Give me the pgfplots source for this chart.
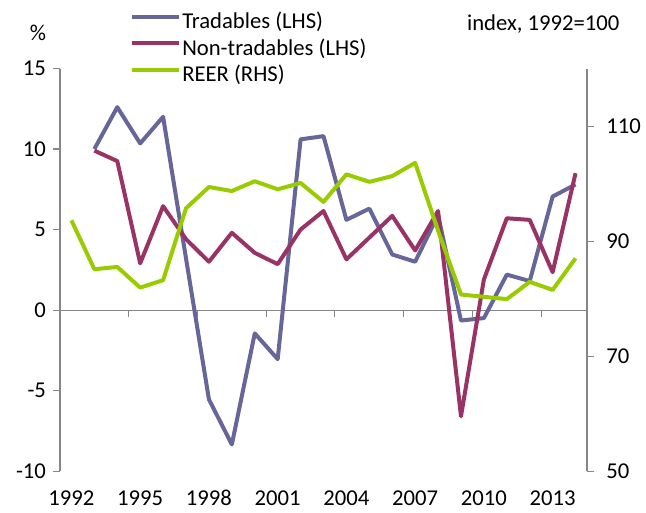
\documentclass[border=0pt]{standalone}
\usepackage{fontspec}
\setmainfont{Carlito}
\usepackage{pgfplots}
\pgfplotsset{compat=1.18}
\usetikzlibrary{calc}

\definecolor{tradc}{RGB}{102,102,153}
\definecolor{nontc}{RGB}{153,51,102}
\definecolor{reerc}{RGB}{153,204,0}
\definecolor{axgray}{RGB}{134,134,134}

\newcommand{\lblfont}{\fontsize{17}{20}\selectfont}

\pgfplotsset{
  base/.style={
    scale only axis,
    width=395.25pt, height=301.9pt,
    xmin=1991.5, xmax=2014.5,
    axis line style={axgray, line width=0.8pt},
    every tick/.style={axgray, line width=0.8pt},
    major tick length=5pt,
    tick align=outside,
    tick label style={font=\lblfont},
    /pgf/number format/assume math mode=true,
    /pgf/number format/1000 sep={},
  },
}

\begin{document}
\begin{tikzpicture}
% left axis: tradables and non-tradables
\begin{axis}[base,
  clip=false,
  ymin=-10, ymax=15,
  ytick={-10,-5,0,5,10,15},
  axis y line*=left,
  axis x line*=middle,
  xtick={1994.5,1997.5,2000.5,2003.5,2006.5,2009.5,2012.5},
  xticklabels={},
  yticklabel style={xshift=-2pt},
]
\coordinate (sw) at (rel axis cs:0,0);
\coordinate (ne) at (rel axis cs:1,1);
\addplot[tradc, line width=3pt, line join=round] coordinates {
  (1993,10.0) (1994,12.6) (1995,10.35) (1996,12.0) (1997,3.2)
  (1998,-5.55) (1999,-8.35) (2000,-1.45) (2001,-3.05) (2002,10.6)
  (2003,10.8) (2004,5.6) (2005,6.3) (2006,3.45) (2007,3.0)
  (2008,5.9) (2009,-0.65) (2010,-0.5) (2011,2.2) (2012,1.8)
  (2013,7.05) (2014,7.8)};
\addplot[nontc, line width=3pt, line join=round] coordinates {
  (1993,9.9) (1994,9.25) (1995,2.9) (1996,6.45) (1997,4.4)
  (1998,3.0) (1999,4.8) (2000,3.55) (2001,2.85) (2002,5.0)
  (2003,6.15) (2004,3.15) (2005,4.5) (2006,5.85) (2007,3.7)
  (2008,6.15) (2009,-6.6) (2010,1.9) (2011,5.7) (2012,5.6)
  (2013,2.35) (2014,8.5)};
\node[font=\lblfont] at (axis description cs:-0.042,1.088) {\%};
\node[font=\lblfont] at (axis description cs:0.917,1.111) {index, 1992=100};
\end{axis}

% right axis: REER, year labels and legend
\begin{axis}[base,
  ymin=50, ymax=120,
  ytick={50,70,90,110},
  axis y line*=right,
  axis x line*=bottom,
  x axis line style={draw=none},
  xtick={1992,1995,1998,2001,2004,2007,2010,2013},
  xtick style={draw=none},
  xticklabel style={yshift=-6pt},
  yticklabel style={xshift=6pt},
  legend style={draw=none, fill=none, inner sep=0pt,
    at={(axis description cs:0.1328,1.143)}, anchor=north west,
    font=\lblfont, row sep=2pt, column sep=0pt,
    nodes={inner sep=1pt, text height=12pt, text depth=4pt}},
  legend cell align=left,
  legend image code/.code={\draw[#1] (0pt,5pt) -- (35pt,5pt);},
]
\addlegendimage{tradc, line width=3pt}
\addlegendentry{Tradables (LHS)}
\addlegendimage{nontc, line width=3pt}
\addlegendentry{Non-tradables (LHS)}
\addplot[reerc, line width=3pt, line join=round] coordinates {
  (1992,93.6) (1993,85.1) (1994,85.5) (1995,81.9) (1996,83.2)
  (1997,95.7) (1998,99.4) (1999,98.7) (2000,100.4) (2001,99.0)
  (2002,100.1) (2003,96.8) (2004,101.6) (2005,100.3) (2006,101.3)
  (2007,103.6) (2008,91.8) (2009,80.7) (2010,80.3) (2011,79.9)
  (2012,82.9) (2013,81.5) (2014,87.0)};
\addlegendentry{REER (RHS)}
\end{axis}

\pgfresetboundingbox
\path ($(sw)+(-45pt,-30.75pt)$) rectangle ($(ne)+(44.25pt,51.4pt)$);
\end{tikzpicture}
\end{document}
